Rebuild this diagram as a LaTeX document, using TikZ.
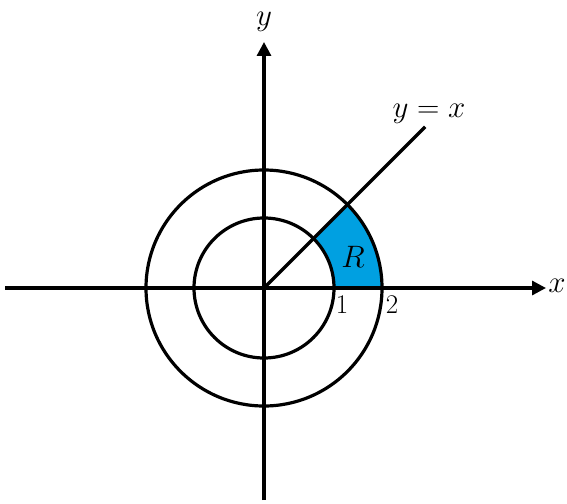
\RequirePackage{fix-cm}
\documentclass[tikz,border=0pt]{standalone}
\usepackage{fontspec}
\usetikzlibrary{arrows.meta,calc}
\definecolor{regblue}{RGB}{0,160,225}
\tikzset{
  axis/.style={line width=3.2pt,-{Triangle[length=14pt,width=14pt]}},
  curve/.style={line width=3.2pt},
  mlabel/.style={inner sep=0pt,font=\fontsize{31}{34}\selectfont},
  dlabel/.style={inner sep=0pt,font=\fontsize{27}{30}\selectfont}
}
\begin{document}
\begin{tikzpicture}[x=1pt,y=-1pt]
\useasboundingbox (0,0) rectangle (567,503);
\coordinate (O) at (264,288);
\coordinate (xl) at (5,288);
\coordinate (xr) at (546,288);
\coordinate (yb) at (264,500);
\coordinate (yt) at (264,42);
\coordinate (le) at ($(O)+(-45:228)$);
% region R
\fill[regblue] (334,288) -- (382,288) arc[start angle=0,end angle=-45,radius=118] -- ($(O)+(-45:70)$) arc[start angle=-45,end angle=0,radius=70] -- cycle;
\draw[curve] (O) circle[radius=70];
\draw[curve] (O) circle[radius=118];
\draw[axis] (xl) -- (xr);
\draw[axis] (yb) -- (yt);
\draw[curve] (O) -- (le);
\node[mlabel] (ylab) at (264,22) {$y$};
\node[mlabel] (xlab) at (557,286) {$x$};
\node[mlabel] (yx) at (429,114) {$y=x$};
\node[mlabel] (R) at (353,257) {$R$};
\node[dlabel] (one) at (342,305) {$1$};
\node[dlabel] (two) at (392,305) {$2$};
\end{tikzpicture}
\end{document}
